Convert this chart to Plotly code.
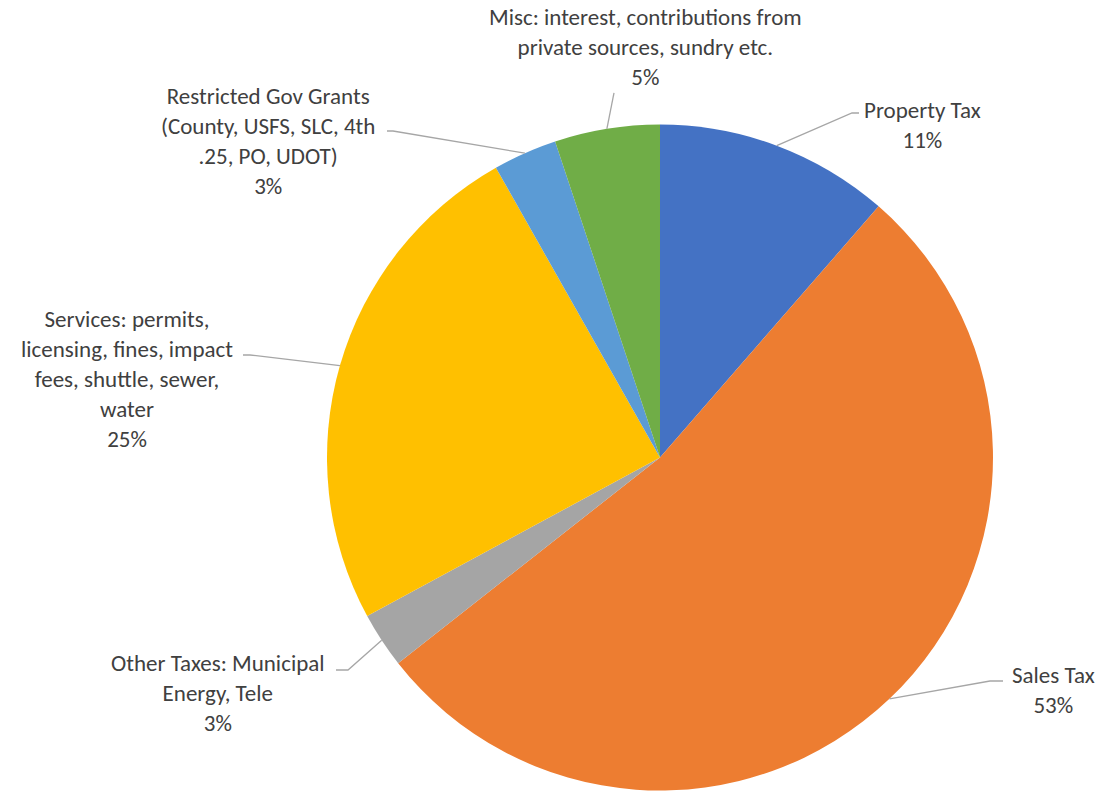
import math
import plotly.graph_objects as go

# ---- data ----
categories = [
    "Property Tax",
    "Sales Tax",
    "Other Taxes: Municipal<br>Energy, Tele",
    "Services: permits,<br>licensing, fines, impact<br>fees, shuttle, sewer,<br>water",
    "Restricted Gov Grants<br>(County, USFS, SLC, 4th<br>.25, PO, UDOT)",
    "Misc: interest, contributions from<br>private sources, sundry etc.",
]
values = [11.4, 53.0, 2.7, 24.7, 3.1, 5.1]
colors = ["#4472C4", "#ED7D31", "#A5A5A5", "#FFC000", "#5B9BD5", "#70AD47"]

# ---- layout constants (pixels) ----
W, H = 1106, 792
CX, CY, R = 660, 457.5, 333
label_centers = [(922, 125), (1053, 690), (218, 693), (127, 379), (268, 141), (645, 47)]
elbows = [(852, 113), (990, 681), (348, 670), (250, 355), (393, 131), (614, 93)]
ends = [(859, 113), (1003, 681), (336, 670), (243, 355), (387, 131), None]

def px(x):
    return x / W

def py(y):
    return 1 - y / H

fig = go.Figure(go.Pie(
    labels=categories,
    values=values,
    sort=False,
    direction="clockwise",
    rotation=0,
    marker=dict(colors=colors, line=dict(width=0)),
    textinfo="none",
    hoverinfo="label+percent",
    showlegend=False,
    domain=dict(x=[px(CX - R), px(CX + R)], y=[py(CY + R), py(CY - R)]),
))

total = sum(values)
cum = 0.0
shapes = []
annotations = []
for i, v in enumerate(values):
    mid = (cum + v / 2) / total * 2 * math.pi
    cum += v
    ex = CX + R * math.sin(mid)
    ey = CY - R * math.cos(mid)
    pts = [(ex, ey), elbows[i]] + ([ends[i]] if ends[i] else [])
    path = "M " + " L ".join(f"{px(x):.5f},{py(y):.5f}" for x, y in pts)
    shapes.append(dict(type="path", xref="paper", yref="paper", path=path,
                       line=dict(color="#A6A6A6", width=1.3)))
    pct = f"{round(v / total * 100)}%"
    lx, ly = label_centers[i]
    annotations.append(dict(
        x=px(lx), y=py(ly), xref="paper", yref="paper",
        xanchor="center", yanchor="middle",
        text=f"{categories[i]}<br>{pct}",
        showarrow=False, align="center",
        font=dict(family="Calibri, Carlito, Lato, sans-serif", size=23, color="#404040"),
    ))

fig.update_layout(
    width=W, height=H,
    margin=dict(l=0, r=0, t=0, b=0),
    paper_bgcolor="white",
    plot_bgcolor="white",
    shapes=shapes,
    annotations=annotations,
)

fig.write_html("out.html")
